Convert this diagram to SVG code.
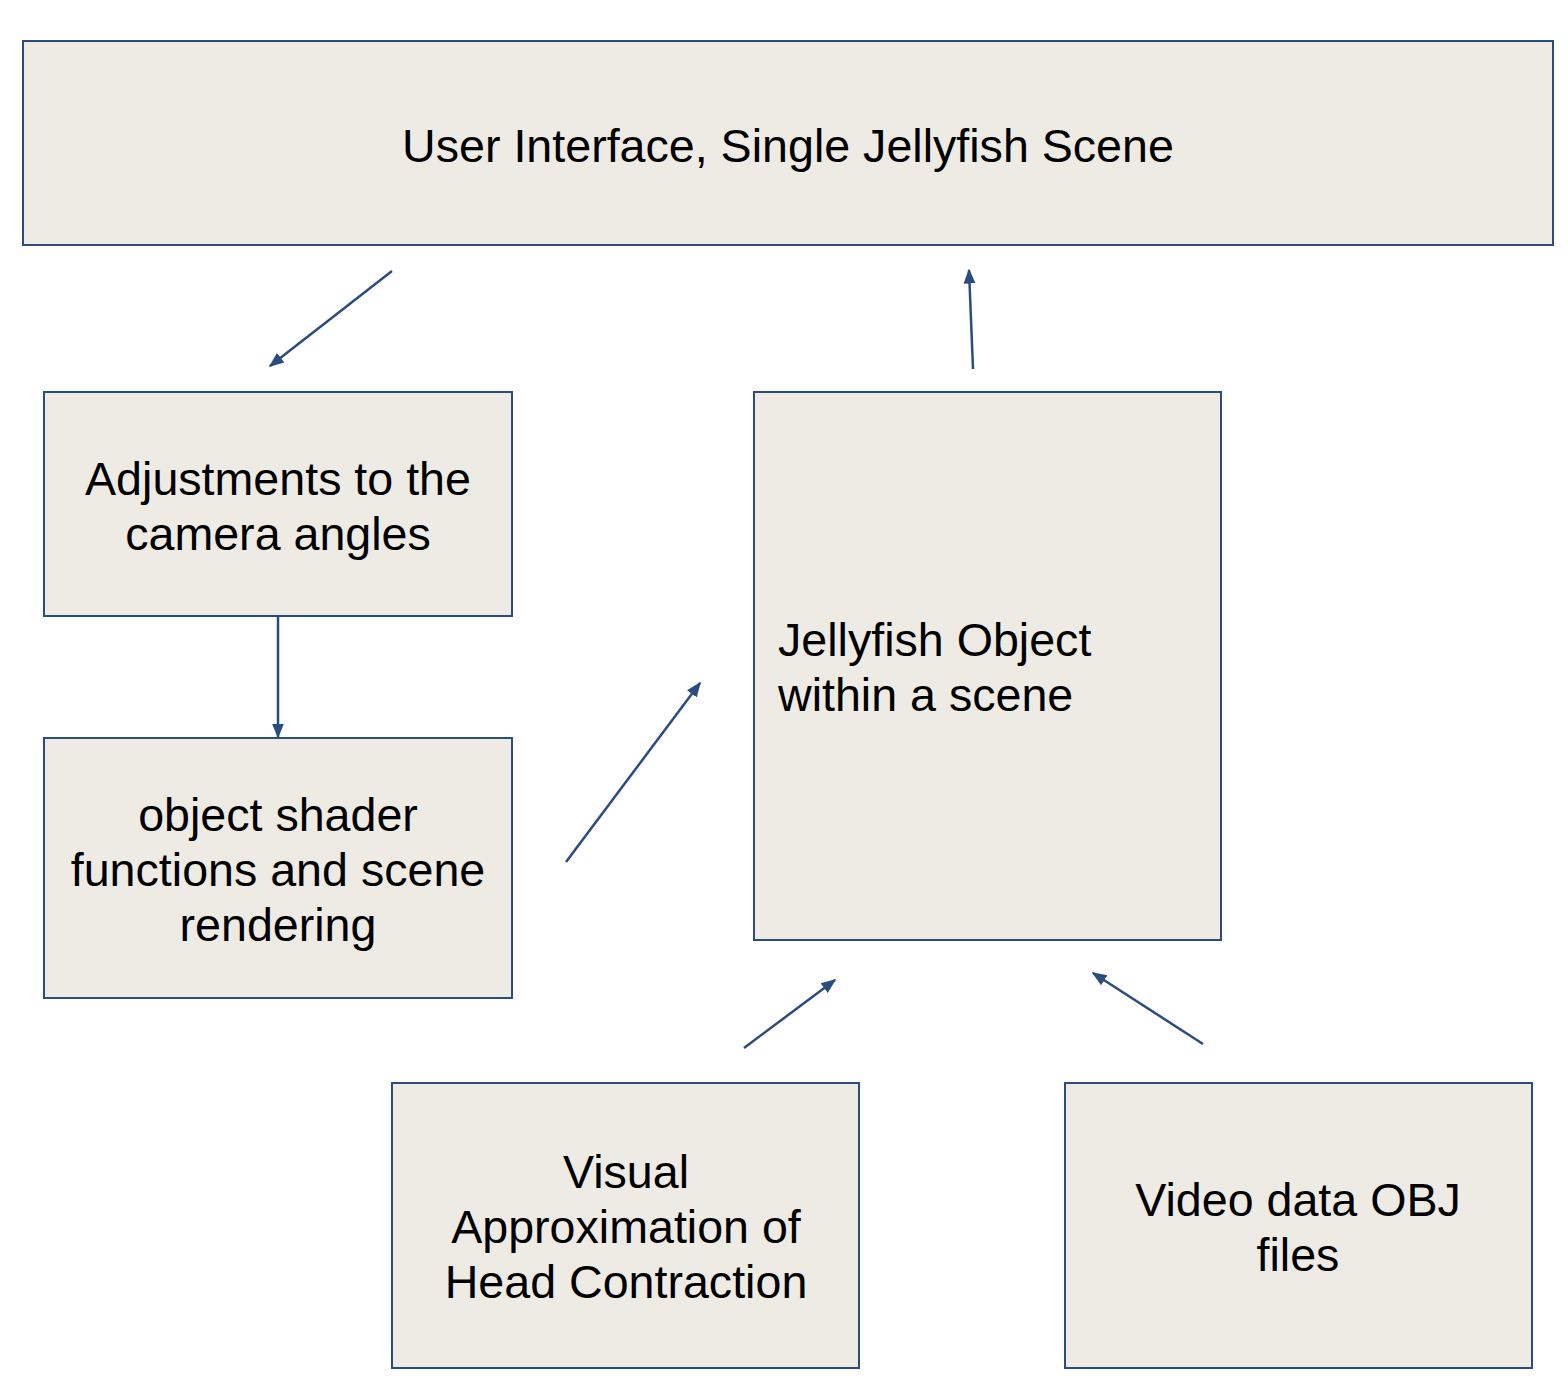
<svg xmlns="http://www.w3.org/2000/svg" width="1568" height="1394" viewBox="0 0 1568 1394">
<style>
.box{fill:#EEEBE4;stroke:#2B4C7E;stroke-width:2}
.t{font-family:"Liberation Sans",Arial,sans-serif;font-size:46.6px;fill:#000}
.c{text-anchor:middle}
.ln{stroke:#2B4C7E;stroke-width:2.5;fill:none;marker-end:url(#ah)}
</style>
<defs>
<marker id="ah" viewBox="0 0 10 10" refX="9" refY="5" markerWidth="6" markerHeight="6" orient="auto" markerUnits="strokeWidth">
<path d="M0,1 L10,5 L0,9 z" fill="#2B4C7E"/>
</marker>
</defs>
<rect width="1568" height="1394" fill="#fff"/>
<g id="ui">
<rect class="box" x="23" y="41" width="1530" height="204"/>
<text class="t c" x="788" y="162">User Interface, Single Jellyfish Scene</text>
</g>
<g id="adjust">
<rect class="box" x="44" y="392" width="468" height="224"/>
<text class="t c" x="278" y="495">Adjustments to the</text>
<text class="t c" x="278" y="550">camera angles</text>
</g>
<g id="shader">
<rect class="box" x="44" y="738" width="468" height="260"/>
<text class="t c" x="278" y="831">object shader</text>
<text class="t c" x="278" y="886">functions and scene</text>
<text class="t c" x="278" y="941">rendering</text>
</g>
<g id="jelly">
<rect class="box" x="754" y="392" width="467" height="548"/>
<text class="t" x="778" y="656">Jellyfish Object</text>
<text class="t" x="778" y="711">within a scene</text>
</g>
<g id="visual">
<rect class="box" x="392" y="1083" width="467" height="285"/>
<text class="t c" x="626" y="1188">Visual</text>
<text class="t c" x="626" y="1243">Approximation of</text>
<text class="t c" x="626" y="1298">Head Contraction</text>
</g>
<g id="video">
<rect class="box" x="1065" y="1083" width="467" height="285"/>
<text class="t c" x="1298" y="1216">Video data OBJ</text>
<text class="t c" x="1298" y="1271">files</text>
</g>
<g id="connectors">
<line class="ln" x1="392" y1="271" x2="270" y2="366"/>
<line class="ln" x1="973" y1="369" x2="969" y2="270"/>
<line class="ln" x1="278" y1="616" x2="278" y2="737"/>
<line class="ln" x1="566" y1="862" x2="700" y2="683"/>
<line class="ln" x1="744" y1="1048" x2="835" y2="980"/>
<line class="ln" x1="1203" y1="1044" x2="1093" y2="973"/>
</g>
</svg>
